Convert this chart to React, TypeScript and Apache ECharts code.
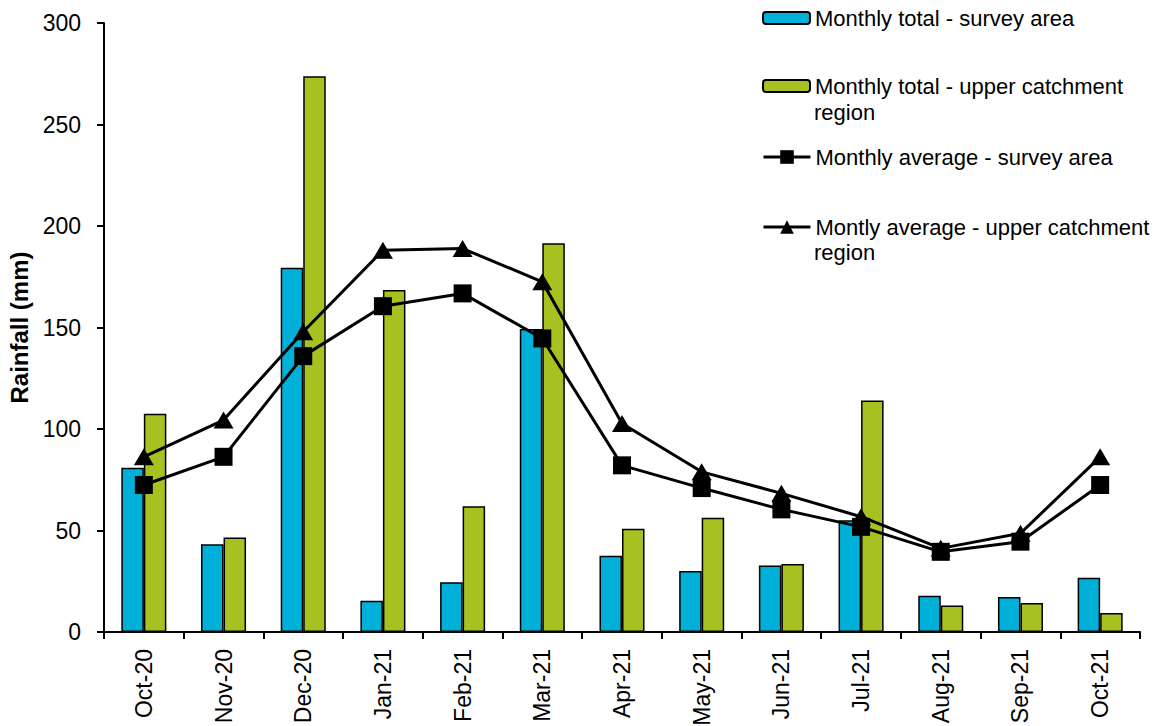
import React, { useEffect, useRef } from "react";
import * as echarts from "echarts";

// Monthly rainfall, Oct 2020 – Oct 2021
const categories = [
  "Oct-20", "Nov-20", "Dec-20", "Jan-21", "Feb-21", "Mar-21", "Apr-21",
  "May-21", "Jun-21", "Jul-21", "Aug-21", "Sep-21", "Oct-21",
];
const surveyTotal = [80.9, 43.2, 179.4, 15.4, 24.5, 149.2, 37.6, 30.0, 32.8, 55.1, 17.9, 17.2, 26.7];
const catchmentTotal = [107.5, 46.6, 273.8, 168.5, 61.9, 191.5, 50.9, 56.3, 33.5, 114.1, 13.0, 14.3, 9.4];
const surveyAvg = [72.4, 86.3, 135.9, 160.5, 166.8, 144.6, 82.1, 70.9, 60.4, 51.8, 39.5, 44.5, 72.4];
const catchmentAvg = [86.3, 104.4, 147.9, 188.0, 188.9, 172.5, 102.7, 78.9, 68.3, 56.8, 41.2, 48.6, 86.3];
const yTicks = { min: 0, max: 300, interval: 50 };

const names = {
  surveyTotal: "Monthly total - survey area",
  catchmentTotal: "Monthly total - upper catchment region",
  surveyAvg: "Monthly average - survey area",
  catchmentAvg: "Montly average - upper catchment region",
};
// first line of each legend entry; the wrapped remainder is drawn below it
const legendFirstLine: Record<string, string> = {
  [names.surveyTotal]: "Monthly total - survey area",
  [names.catchmentTotal]: "Monthly total - upper catchment",
  [names.surveyAvg]: "Monthly average - survey area",
  [names.catchmentAvg]: "Montly average - upper catchment",
};

const FONT = "'Liberation Sans', Arial, Helvetica, sans-serif";
const BLUE = "#00B0D8";
const GREEN = "#A6C120";

function legendItem(name: string, top: number, itemHeight: number, isLine: boolean) {
  return {
    data: [name],
    orient: "vertical",
    left: 762,
    top,
    padding: 0,
    itemWidth: 47,
    itemHeight,
    selectedMode: false,
    formatter: (n: string) => legendFirstLine[n] ?? n,
    textStyle: { fontFamily: FONT, fontSize: 22, color: "#000" },
    ...(isLine ? { lineStyle: { width: 3, color: "#000" } } : {}),
  };
}

export default function App() {
  const ref = useRef<HTMLDivElement>(null);

  useEffect(() => {
    if (!ref.current) return;
    const chart = echarts.init(ref.current, undefined, { renderer: "svg" });
    chart.setOption({
      animation: false,
      backgroundColor: "#fff",
      grid: { left: 104, right: 17, top: 23, bottom: 94, outerBoundsMode: "none", containLabel: false },
      legend: [
        legendItem(names.surveyTotal, 7, 12, false),
        legendItem(names.catchmentTotal, 75, 12, false),
        legendItem(names.surveyAvg, 146, 17, true),
        legendItem(names.catchmentAvg, 216, 17, true),
      ],
      graphic: [
        {
          type: "text",
          left: 814,
          top: 101,
          style: { text: "region", font: `22px ${FONT}`, fill: "#000" },
        },
        {
          type: "text",
          left: 814,
          top: 241,
          style: { text: "region", font: `22px ${FONT}`, fill: "#000" },
        },
      ],
      xAxis: {
        type: "category",
        data: categories,
        boundaryGap: true,
        axisLine: { lineStyle: { color: "#000", width: 2 } },
        axisTick: { show: true, length: 7, lineStyle: { color: "#000", width: 2 } },
        axisLabel: {
          rotate: 90,
          margin: 17,
          interval: 0,
          color: "#000",
          fontFamily: FONT,
          fontSize: 23,
        },
        splitLine: { show: false },
      },
      yAxis: {
        type: "value",
        min: yTicks.min,
        max: yTicks.max,
        interval: yTicks.interval,
        name: "Rainfall (mm)",
        nameLocation: "middle",
        nameGap: 70,
        nameTextStyle: { fontFamily: FONT, fontSize: 24, fontWeight: "bold", color: "#000" },
        axisLine: { show: true, lineStyle: { color: "#000", width: 2 } },
        axisTick: { show: true, length: 7, lineStyle: { color: "#000", width: 2 } },
        axisLabel: { margin: 23, color: "#000", fontFamily: FONT, fontSize: 23 },
        splitLine: { show: false },
      },
      series: [
        {
          name: names.surveyTotal,
          type: "bar",
          data: surveyTotal,
          barGap: "0%",
          barCategoryGap: "43.5%",
          itemStyle: { color: BLUE, borderColor: "#000", borderWidth: 1.5 },
          z: 2,
        },
        {
          name: names.catchmentTotal,
          type: "bar",
          data: catchmentTotal,
          itemStyle: { color: GREEN, borderColor: "#000", borderWidth: 1.5 },
          z: 2,
        },
        {
          name: names.catchmentAvg,
          type: "line",
          data: catchmentAvg,
          symbol: "triangle",
          symbolSize: [20, 17],
          showAllSymbol: true,
          lineStyle: { color: "#000", width: 3 },
          itemStyle: { color: "#000", borderWidth: 0 },
          z: 3,
        },
        {
          name: names.surveyAvg,
          type: "line",
          data: surveyAvg,
          symbol: "rect",
          symbolSize: 18,
          showAllSymbol: true,
          lineStyle: { color: "#000", width: 3 },
          itemStyle: { color: "#000", borderWidth: 0 },
          z: 4,
        },
      ],
    });
    return () => chart.dispose();
  }, []);

  return (
    <div
      ref={ref}
      style={{ position: "absolute", left: 0, top: 0, width: 1157, height: 726 }}
    />
  );
}
